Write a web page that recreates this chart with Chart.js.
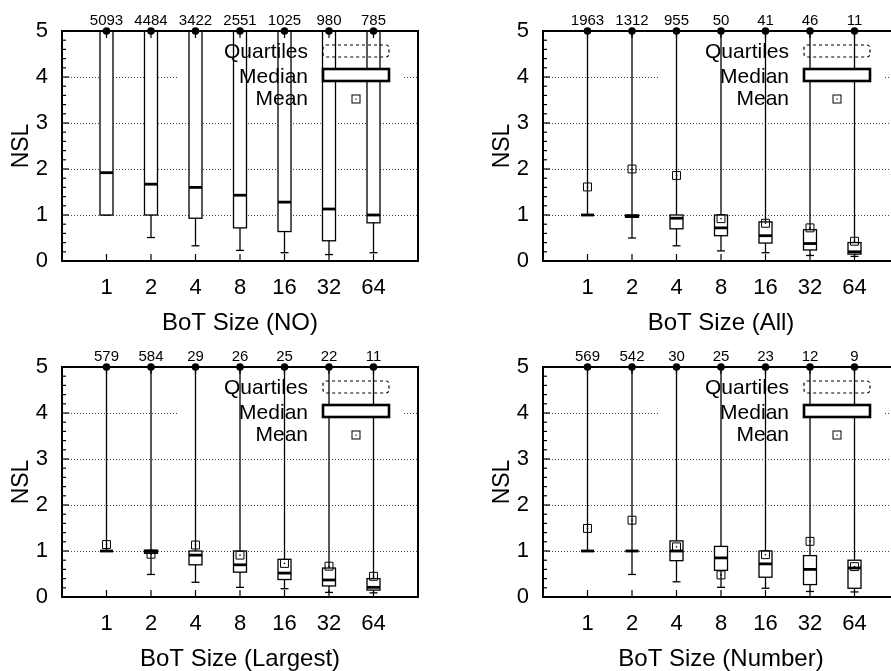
<!DOCTYPE html>
<html>
<head>
<meta charset="utf-8">
<script src="https://cdn.jsdelivr.net/npm/chart.js@4.4.1/dist/chart.umd.min.js"></script>
<style>
	html, body { margin: 0; padding: 0; background: #fff; }
	#wrap { position: relative; width: 891px; height: 671px; overflow: hidden; }
	.panel { position: absolute; width: 445px; height: 345px; }
</style>
</head>
<body>
<div id="wrap">
	<div class="panel" style="left:0;top:0"><canvas id="c-no" width="445" height="345"></canvas></div>
	<div class="panel" style="left:481px;top:0"><canvas id="c-all" width="445" height="345"></canvas></div>
	<div class="panel" style="left:0;top:336px"><canvas id="c-largest" width="445" height="345"></canvas></div>
	<div class="panel" style="left:481px;top:336px"><canvas id="c-number" width="445" height="345"></canvas></div>
</div>
<script>
const botSizes = ['1', '2', '4', '8', '16', '32', '64']
const yMin = 0
const yMax = 5

// BoT Size (NO) — upper quartile and means are above the plotted range
const noCounts = [5093, 4484, 3422, 2551, 1025, 980, 785]
const noLow = [1.0, 0.51, 0.33, 0.23, 0.18, 0.14, 0.18]
const noQ1 = [1.0, 1.0, 0.93, 0.72, 0.64, 0.44, 0.83]
const noMedian = [1.92, 1.67, 1.6, 1.43, 1.28, 1.13, 1.0]
const noQ3 = [5, 5, 5, 5, 5, 5, 5]
const noMean = [null, null, null, null, null, null, null]

// BoT Size (All)
const allCounts = [1963, 1312, 955, 50, 41, 46, 11]
const allLow = [1.0, 0.5, 0.33, 0.22, 0.18, 0.12, 0.1]
const allQ1 = [1.0, 0.95, 0.7, 0.55, 0.39, 0.24, 0.15]
const allMedian = [1.0, 0.98, 0.93, 0.72, 0.55, 0.38, 0.2]
const allQ3 = [1.0, 1.0, 1.0, 1.0, 0.85, 0.68, 0.4]
const allMean = [1.61, 2.0, 1.86, 0.92, 0.82, 0.72, 0.43]

// BoT Size (Largest)
const largestCounts = [579, 584, 29, 26, 25, 22, 11]
const largestLow = [1.0, 0.49, 0.32, 0.21, 0.18, 0.1, 0.09]
const largestQ1 = [1.0, 0.95, 0.7, 0.54, 0.38, 0.24, 0.15]
const largestMedian = [1.0, 0.99, 0.91, 0.7, 0.52, 0.37, 0.21]
const largestQ3 = [1.0, 1.02, 1.0, 1.0, 0.82, 0.63, 0.4]
const largestMean = [1.14, 0.93, 1.13, 0.91, 0.73, 0.67, 0.45]

// BoT Size (Number)
const numberCounts = [569, 542, 30, 25, 23, 12, 9]
const numberLow = [1.0, 0.49, 0.33, 0.21, 0.19, 0.12, 0.11]
const numberQ1 = [1.0, 1.0, 0.79, 0.58, 0.43, 0.27, 0.19]
const numberMedian = [1.0, 1.0, 1.0, 0.85, 0.72, 0.6, 0.63]
const numberQ3 = [1.0, 1.0, 1.22, 1.1, 1.0, 0.9, 0.8]
const numberMean = [1.49, 1.67, 1.09, 0.48, 0.92, 1.21, 0.66]

const FONT = '"Liberation Sans", Arial, Helvetica, sans-serif'

const panels = [
	{ id: 'c-no', title: 'BoT Size (NO)', counts: noCounts, low: noLow, q1: noQ1, median: noMedian, q3: noQ3, mean: noMean },
	{ id: 'c-all', title: 'BoT Size (All)', counts: allCounts, low: allLow, q1: allQ1, median: allMedian, q3: allQ3, mean: allMean },
	{ id: 'c-largest', title: 'BoT Size (Largest)', counts: largestCounts, low: largestLow, q1: largestQ1, median: largestMedian, q3: largestQ3, mean: largestMean },
	{ id: 'c-number', title: 'BoT Size (Number)', counts: numberCounts, low: numberLow, q1: numberQ1, median: numberMedian, q3: numberQ3, mean: numberMean },
]

function line(ctx, x1, y1, x2, y2) {
	ctx.beginPath()
	ctx.moveTo(x1, y1)
	ctx.lineTo(x2, y2)
	ctx.stroke()
}

// box plot pieces + frame + legend, all placed through the chart scales
function boxPlugin(p) {
	return {
		id: 'boxes',
		beforeDatasetsDraw(chart) {
			const { ctx, chartArea: a, scales: { x, y } } = chart
			ctx.save()
			// legend background hides the grid behind it
			ctx.fillStyle = '#fff'
			ctx.fillRect(a.left + 116, a.top + 4, 226, 76)

			ctx.strokeStyle = '#000'
			const half = 6.5
			botSizes.forEach((s, i) => {
				const px = x.getPixelForValue(i + 1)
				const yLow = y.getPixelForValue(p.low[i])
				const yTop = y.getPixelForValue(y.max)
				const y1 = y.getPixelForValue(p.q1[i])
				const y3 = y.getPixelForValue(p.q3[i])
				const ym = y.getPixelForValue(p.median[i])

				ctx.lineWidth = 1.3
				line(ctx, px, yLow, px, yTop)
				line(ctx, px - 4, yLow, px + 4, yLow)

				ctx.fillStyle = '#fff'
				ctx.fillRect(px - half, y3, 2 * half, y1 - y3)
				ctx.strokeRect(px - half, y3, 2 * half, y1 - y3)

				ctx.lineWidth = 2.8
				line(ctx, px - half, ym, px + half, ym)
			})
			ctx.restore()
		},
		afterDatasetsDraw(chart) {
			const { ctx, chartArea: a, scales: { x, y } } = chart
			ctx.save()
			ctx.strokeStyle = '#000'
			ctx.fillStyle = '#000'

			// frame
			ctx.lineWidth = 2
			ctx.strokeRect(a.left, a.top, a.right - a.left, a.bottom - a.top)

			// y ticks (major + minor) on the left side
			ctx.lineWidth = 1.2
			for (let v = yMin; v < yMax; v++) {
				for (let k = 1; k < 5; k++) {
					const py = y.getPixelForValue(v + k / 5)
					line(ctx, a.left, py, a.left + 4, py)
				}
				if (v > yMin) {
					const py = y.getPixelForValue(v)
					line(ctx, a.left, py, a.left + 7, py)
				}
			}
			// x ticks
			botSizes.forEach((s, i) => {
				const px = x.getPixelForValue(i + 1)
				line(ctx, px, a.bottom, px, a.bottom - 7)
				line(ctx, px, a.top, px, a.top + 7)
			})

			// sample counts above the frame
			ctx.font = `15px ${FONT}`
			ctx.textAlign = 'center'
			ctx.textBaseline = 'alphabetic'
			p.counts.forEach((c, i) => {
				ctx.fillText(String(c), x.getPixelForValue(i + 1), a.top - 6)
			})

			// legend
			const tx = a.left + 246
			const sx = a.left + 261
			ctx.font = `21px ${FONT}`
			ctx.textAlign = 'right'
			ctx.textBaseline = 'middle'
			ctx.fillText('Quartiles', tx, a.top + 21)
			ctx.fillText('Median', tx, a.top + 46)
			ctx.fillText('Mean', tx, a.top + 68)

			ctx.lineWidth = 1.2
			ctx.setLineDash([3, 3])
			ctx.beginPath()
			ctx.roundRect(sx, a.top + 14, 66, 12, 3)
			ctx.stroke()
			ctx.setLineDash([])

			ctx.lineWidth = 2.6
			ctx.fillStyle = '#fff'
			ctx.fillRect(sx, a.top + 38, 66, 12)
			ctx.strokeRect(sx, a.top + 38, 66, 12)

			ctx.lineWidth = 1
			ctx.strokeRect(a.left + 290, a.top + 64, 8, 8)
			ctx.fillStyle = '#000'
			ctx.fillRect(a.left + 293.5, a.top + 67.5, 1.2, 1.2)
			ctx.restore()
		},
	}
}

function makeChart(p) {
	const canvas = document.getElementById(p.id)
	return new Chart(canvas, {
		type: 'scatter',
		data: {
			datasets: [
				{
					// marker where the upper whisker leaves the plot
					data: botSizes.map((s, i) => ({ x: i + 1, y: yMax })),
					pointStyle: 'circle',
					pointRadius: 3.8,
					backgroundColor: '#000',
					borderWidth: 0,
					clip: false,
				},
				{
					data: p.mean.map((m, i) => ({ x: i + 1, y: m })),
					pointStyle: 'rect',
					pointRadius: 5.6,
					backgroundColor: 'rgba(0,0,0,0)',
					borderColor: '#000',
					borderWidth: 1,
				},
				{
					data: p.mean.map((m, i) => ({ x: i + 1, y: m })),
					pointStyle: 'circle',
					pointRadius: 0.8,
					backgroundColor: '#000',
					borderWidth: 0,
				},
			],
		},
		options: {
			responsive: false,
			animation: false,
			events: [],
			layout: { padding: { top: 31, right: 27, left: 0, bottom: 0 } },
			plugins: { legend: { display: false }, tooltip: { enabled: false } },
			scales: {
				x: {
					type: 'linear',
					min: 0,
					max: botSizes.length + 1,
					afterFit: s => { s.height = 84 },
					grid: { display: false },
					border: { display: false },
					ticks: {
						stepSize: 1,
						autoSkip: false,
						maxRotation: 0,
						padding: 8,
						color: '#000',
						font: { family: FONT, size: 22, lineHeight: 1 },
						callback: v => botSizes[v - 1] ?? '',
					},
					title: {
						display: true,
						text: p.title,
						color: '#000',
						font: { family: FONT, size: 24, lineHeight: 1 },
						padding: { top: 0, bottom: 10 },
					},
				},
				y: {
					min: yMin,
					max: yMax,
					afterFit: s => { s.width = 62 },
					grid: { color: '#444', lineWidth: 1, drawTicks: false },
					border: { display: false, dash: [1, 2] },
					ticks: {
						stepSize: 1,
						padding: 14,
						color: '#000',
						font: { family: FONT, size: 22, lineHeight: 1 },
					},
					title: {
						display: true,
						text: 'NSL',
						color: '#000',
						font: { family: FONT, size: 23, lineHeight: 1 },
						padding: { top: 10, bottom: 0 },
					},
				},
			},
		},
		plugins: [boxPlugin(p)],
	})
}

panels.forEach(makeChart)
</script>
</body>
</html>
